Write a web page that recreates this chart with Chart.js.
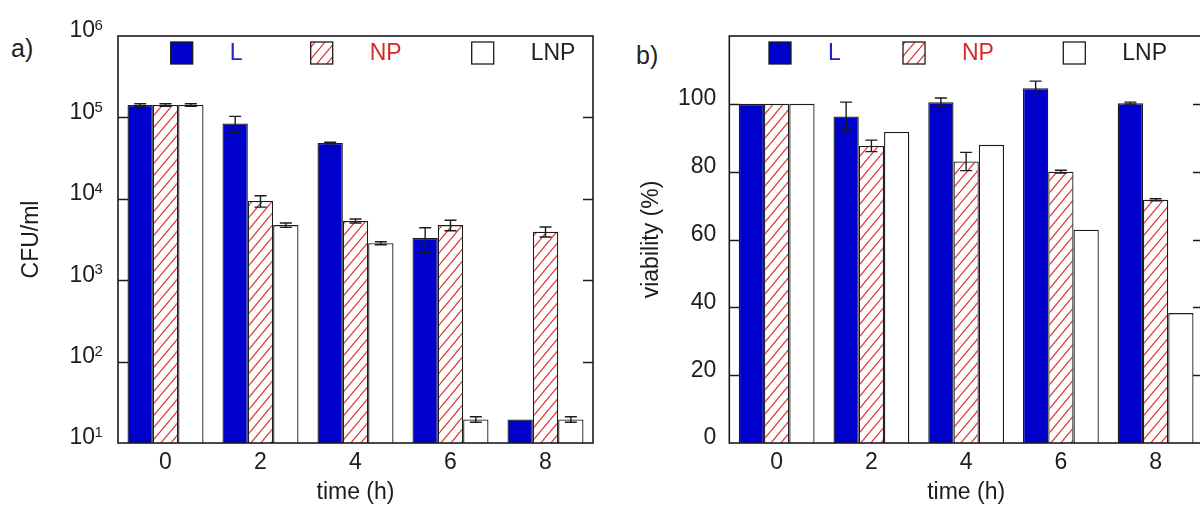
<!DOCTYPE html>
<html lang="en">
<head>
  <meta charset="UTF-8">
  <title>CFU and viability over time</title>
  <script src="https://cdn.jsdelivr.net/npm/chart.js"></script>
  <style>
    html, body { margin: 0; padding: 0; background: #fff; width: 1200px; height: 506px; overflow: hidden; }
    body { position: relative; font-family: "Liberation Sans", Arial, sans-serif; color: #222; }
    .panel { position: absolute; top: 0; }
    .tag { position: absolute; font-size: 25px; color: #222; line-height: 1; }
  </style>
</head>
<body>
  <div class="tag" style="left: 11px; top: 36px;">a)</div>
  <div class="tag" style="left: 636px; top: 43px;">b)</div>

  <div class="panel" style="left: 0;"><canvas id="cfuChart" width="610" height="506"></canvas></div>
  <div class="panel" style="left: 620px;"><canvas id="viaChart" width="600" height="506"></canvas></div>

<script>
// sampling times (h)
const times = ['0', '2', '4', '6', '8'];
const seriesNames = ['L', 'NP', 'LNP'];

// a) colony counts, CFU/ml, with standard deviations
const cfuL = [142000, 84000, 48500, 3300, 19.5];
const cfuLErr = [5000, 19000, 1000, 1100, 0];
const cfuNP = [142000, 9400, 5350, 4750, 3950];
const cfuNPErr = [5000, 1500, 300, 700, 550];
const cfuLNP = [142000, 4750, 2850, 19.5, 19.5];
const cfuLNPErr = [5000, 300, 120, 1.5, 1.5];
const cfuTicks = [10, 100, 1000, 10000, 100000, 1000000];
const cfuTickExponents = ['1', '2', '3', '4', '5', '6'];

// b) viability, %
const viaL = [100, 96.3, 100.5, 104.6, 100.2];
const viaLErr = [0, 4.2, 1.2, 2.1, 0.3];
const viaNP = [100, 87.6, 83.0, 80.0, 71.7];
const viaNPErr = [0, 1.7, 2.7, 0.4, 0.3];
const viaLNP = [100, 91.7, 87.9, 62.9, 38.3];
const viaTicks = [0, 20, 40, 60, 80, 100];

const FONT = '"Liberation Sans", Arial, sans-serif';
const INK = '#1c1c1c';
const BLUE = '#0000cc';
const legendColours = ['#2222cc', '#d42a2a', '#222'];

// red diagonal hatching for the NP bars
function hatch() {
  const w = 10, h = 12;
  const c = document.createElement('canvas');
  c.width = w; c.height = h;
  const g = c.getContext('2d');
  g.fillStyle = '#fff';
  g.fillRect(0, 0, w, h);
  g.strokeStyle = '#e03a3a';
  g.lineWidth = 1.3;
  [-w, 0, w].forEach(x0 => {
    g.beginPath();
    g.moveTo(x0, h);
    g.lineTo(x0 + w, 0);
    g.stroke();
  });
  return g.createPattern(c, 'repeat');
}
const npFill = hatch();

// vertical error bars with caps, placed from the bar elements and the y scale
const errorBars = {
  id: 'errorBars',
  afterDatasetsDraw(chart) {
    const ctx = chart.ctx, y = chart.scales.y;
    ctx.save();
    ctx.strokeStyle = INK;
    ctx.lineWidth = 1.4;
    chart.data.datasets.forEach((ds, i) => {
      if (!ds.errors) return;
      chart.getDatasetMeta(i).data.forEach((bar, j) => {
        const e = ds.errors[j];
        if (!e) return;
        const v = ds.data[j];
        const top = y.getPixelForValue(v + e);
        const bot = y.getPixelForValue(v - e);
        ctx.beginPath();
        ctx.moveTo(bar.x, top); ctx.lineTo(bar.x, bot);
        ctx.moveTo(bar.x - 6, top); ctx.lineTo(bar.x + 6, top);
        ctx.moveTo(bar.x - 6, bot); ctx.lineTo(bar.x + 6, bot);
        ctx.stroke();
      });
    });
    ctx.restore();
  }
};

// boxed frame with inward ticks on both sides
const frame = {
  id: 'frame',
  afterDraw(chart) {
    const { ctx, chartArea: a } = chart;
    const y = chart.scales.y;
    ctx.save();
    ctx.strokeStyle = INK;
    ctx.lineWidth = 1.4;
    y.ticks.forEach(t => {
      const py = Math.round(y.getPixelForValue(t.value)) + 0.5;
      if (py <= a.top + 2 || py >= a.bottom - 2) return;
      ctx.beginPath();
      ctx.moveTo(a.left, py); ctx.lineTo(a.left + 10, py);
      ctx.moveTo(a.right - 10, py); ctx.lineTo(a.right, py);
      ctx.stroke();
    });
    ctx.lineWidth = 1.6;
    ctx.strokeRect(a.left, a.top, a.right - a.left, a.bottom - a.top);
    ctx.restore();
  }
};

// "10" with a raised exponent beside each decade of the log axis
const decadeLabels = {
  id: 'decadeLabels',
  afterDraw(chart, args, opts) {
    if (!opts.exponents) return;
    const { ctx, chartArea: a } = chart;
    const y = chart.scales.y;
    ctx.save();
    ctx.fillStyle = INK;
    ctx.textBaseline = 'middle';
    y.ticks.forEach((t, i) => {
      const py = y.getPixelForValue(t.value);
      const x = a.left - 23;
      ctx.font = '23px ' + FONT;
      ctx.textAlign = 'right';
      ctx.fillText('10', x, py - 5);
      ctx.font = '15px ' + FONT;
      ctx.textAlign = 'left';
      ctx.fillText(opts.exponents[i], x - 0.5, py - 10);
    });
    ctx.restore();
  }
};

// legend row inside the top of the plot
const boxLegend = {
  id: 'boxLegend',
  afterDraw(chart, args, opts) {
    const { ctx, chartArea: a } = chart;
    const cy = a.top + 17;
    ctx.save();
    ctx.font = '23px ' + FONT;
    ctx.textBaseline = 'middle';
    chart.data.datasets.forEach((ds, i) => {
      const x = a.left + opts.offsets[i];
      ctx.fillStyle = ds.backgroundColor;
      ctx.fillRect(x, cy - 11, 22, 22);
      ctx.strokeStyle = INK;
      ctx.lineWidth = 1.3;
      ctx.strokeRect(x, cy - 11, 22, 22);
      ctx.fillStyle = legendColours[i];
      ctx.fillText(ds.label, x + 59, cy + 1);
    });
    ctx.restore();
  }
};

function datasets(values, errors) {
  const fills = [BLUE, npFill, '#fff'];
  return seriesNames.map((name, i) => ({
    label: name,
    data: values[i],
    errors: errors[i],
    backgroundColor: fills[i],
    borderColor: INK,
    borderWidth: 1.3,
    categoryPercentage: 0.8,
    barPercentage: 1.0
  }));
}

function options(yScale, yTitle, legendOffsets, axisWidth, exponents) {
  return {
    responsive: false,
    animation: false,
    devicePixelRatio: 1,
    layout: { padding: { top: 36, right: 17, left: 0, bottom: 0 } },
    plugins: {
      legend: { display: false },
      tooltip: { enabled: false },
      boxLegend: { offsets: legendOffsets },
      decadeLabels: { exponents: exponents }
    },
    scales: {
      x: {
        grid: { display: false, drawTicks: false },
        border: { display: false },
        ticks: { color: INK, font: { family: FONT, size: 23 }, padding: 6 },
        title: { display: true, text: 'time (h)', color: INK, font: { family: FONT, size: 23 }, padding: { top: 0, bottom: 0 } },
        afterFit: s => { s.height = 63; }
      },
      y: Object.assign({
        grid: { display: false, drawTicks: false },
        border: { display: false },
        title: { display: true, text: yTitle, color: INK, font: { family: FONT, size: 23 }, padding: { top: 18, bottom: 0 } },
        afterFit: s => { s.width = axisWidth; }
      }, yScale)
    }
  };
}

new Chart(document.getElementById('cfuChart'), {
  type: 'bar',
  data: {
    labels: times,
    datasets: datasets([cfuL, cfuNP, cfuLNP], [cfuLErr, cfuNPErr, cfuLNPErr])
  },
  options: options({
    type: 'logarithmic',
    min: 10,
    max: 1000000,
    afterBuildTicks: s => { s.ticks = cfuTicks.map(v => ({ value: v })); },
    ticks: { display: false }
  }, 'CFU/ml', [52.7, 192.7, 353.7], 118, cfuTickExponents),
  plugins: [errorBars, frame, decadeLabels, boxLegend]
});

new Chart(document.getElementById('viaChart'), {
  type: 'bar',
  data: {
    labels: times,
    datasets: datasets([viaL, viaNP, viaLNP], [viaLErr, viaNPErr, null])
  },
  options: options({
    type: 'linear',
    min: 0,
    max: 120,
    afterBuildTicks: s => { s.ticks = viaTicks.map(v => ({ value: v })); },
    ticks: {
      color: INK, font: { family: FONT, size: 23 }, padding: 13, labelOffset: -5,
      callback: v => String(v)
    }
  }, 'viability (%)', [39.7, 173.7, 334], 109.3, null),
  plugins: [errorBars, frame, decadeLabels, boxLegend]
});
</script>
</body>
</html>
